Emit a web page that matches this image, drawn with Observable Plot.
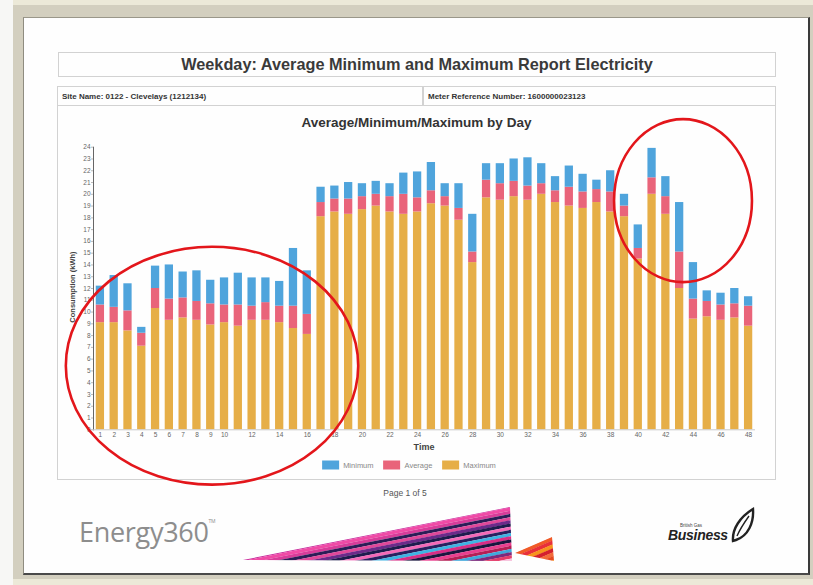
<!DOCTYPE html>
<html>
<head>
<meta charset="utf-8">
<script src="https://cdn.jsdelivr.net/npm/d3@7"></script>
<script src="https://cdn.jsdelivr.net/npm/@observablehq/plot@0.6"></script>
<style>
  html, body { margin: 0; padding: 0; }
  body { width: 813px; height: 585px; position: relative; overflow: hidden; background: #d3cfbf; font-family: "Liberation Sans", Arial, sans-serif; }
  .abs { position: absolute; }
  #leftstrip { left: 0; top: 0; width: 13px; height: 585px; background: #f7f7f5; }
  #toolbar { left: 13px; top: 0; width: 800px; height: 5px; background: #ece9d8; }
  #bottombar { left: 13px; top: 579px; width: 800px; height: 6px; background: #ece9d8; }
  #page { left: 23px; top: 17px; width: 784px; height: 555px; background: #fefefe; border-left: 1px solid #8f8c80; border-top: 1px solid #9a978a; border-right: 2px solid #3a3a3a; border-bottom: 2px solid #4a4a4a; }
  .box { border: 1.5px solid #d2d2d2; box-sizing: border-box; }
  #titlebox { left: 58px; top: 52px; width: 718px; height: 25px; display: flex; align-items: center; justify-content: center; font-weight: bold; font-size: 16.3px; color: #3a3a3a; }
  #inforow { left: 57px; top: 86px; width: 719px; height: 20px; }
  #site { left: 62px; top: 92px; font-size: 8px; font-weight: bold; color: #333; }
  #meter { left: 428px; top: 92px; font-size: 8px; font-weight: bold; color: #333; }
  #divider { left: 422px; top: 86px; width: 1.5px; height: 20px; background: #d2d2d2; }
  #chartbox { left: 57px; top: 105px; width: 719px; height: 375px; border-top: none; }
  #charttitle { left: 57px; top: 115px; width: 719px; text-align: center; font-weight: bold; font-size: 13.5px; color: #333; }
  #ylabel { left: 72px; top: 287px; transform: translate(-50%, -50%) rotate(-90deg); font-size: 7.5px; font-weight: bold; color: #444; white-space: nowrap; }
  #xlabel { left: 424px; top: 447px; transform: translate(-50%, -50%); font-size: 9px; font-weight: bold; color: #444; }
  #legend { left: 409px; top: 465px; transform: translate(-50%, -50%); display: flex; align-items: center; font-size: 7.5px; color: #888; white-space: nowrap; }
  #legend .item { display: flex; align-items: center; margin: 0 5px; }
  #legend .sw { width: 17px; height: 9px; margin-right: 4px; }
  #pageno { left: 405px; top: 493px; transform: translate(-50%, -50%); font-size: 8.5px; color: #555; }
  #energy { left: 79px; top: 513px; font-family: "Open Sans", "DejaVu Sans", sans-serif; font-size: 27px; color: #8d8d8d; letter-spacing: -0.3px; }
  #energy sup { font-size: 5px; vertical-align: 19px; }
  #chart { left: 58px; top: 130px; }
</style>
</head>
<body>
<div class="abs" id="leftstrip"></div>
<div class="abs" id="toolbar"></div>
<div class="abs" id="bottombar"></div>
<div class="abs" id="page"></div>
<div class="abs box" id="titlebox">Weekday: Average Minimum and Maximum Report Electricity</div>
<div class="abs box" id="inforow"></div>
<div class="abs" id="divider"></div>
<div class="abs" id="site">Site Name: 0122 - Clevelays (1212134)</div>
<div class="abs" id="meter">Meter Reference Number: 1600000023123</div>
<div class="abs box" id="chartbox"></div>
<div class="abs" id="charttitle">Average/Minimum/Maximum by Day</div>
<div class="abs" id="chart"></div>
<div class="abs" id="ylabel">Consumption (kWh)</div>
<div class="abs" id="xlabel">Time</div>
<div class="abs" id="legend"></div>
<div class="abs" id="pageno">Page 1 of 5</div>
<div class="abs" id="energy">Energy360<sup>TM</sup></div>
<svg class="abs" id="ribbon" style="left:240px;top:503px" width="325" height="62"></svg>
<svg class="abs" id="logo" style="left:660px;top:503px" width="100" height="45">
  <text x="8" y="37" font-family="Liberation Sans, Arial" font-weight="bold" font-style="italic" font-size="14" fill="#222" letter-spacing="-0.3">Business</text>
  <text x="20" y="24" font-family="Liberation Sans, Arial" font-size="4.5" fill="#444">British Gas</text>
  <path d="M73,38 C72,26 80,14 93,6 C94,20 88,33 76,37 Z" fill="none" stroke="#222" stroke-width="2.4"/>
  <path d="M77,33 C80,26 84,20 89,13" fill="none" stroke="#222" stroke-width="1.4"/>
</svg>
<script>
// ---- data ----
const days = [1,2,3,4,5,6,7,8,9,10,11,12,13,14,15,16,17,18,19,20,21,22,23,24,25,26,27,28,29,30,31,32,33,34,35,36,37,38,39,40,41,42,43,44,45,46,47,48];
// top of the orange ("Maximum") segment
const maximumTop = [9.1,9.1,8.4,7.1,10.3,9.3,9.5,9.3,8.9,9.1,8.8,9.3,9.3,9.1,8.6,8.1,18.1,18.5,18.3,18.7,19.0,18.5,18.3,18.5,19.2,19.0,17.8,14.2,19.7,19.5,19.8,19.5,20.0,19.3,19.0,18.8,19.3,18.5,18.1,14.5,20.0,18.3,12.0,9.4,9.6,9.3,9.5,8.8];
// top of the red ("Average") segment
const averageTop = [10.6,10.4,10.1,8.2,12.0,11.1,11.2,10.9,10.7,10.6,10.6,10.5,10.8,10.5,10.5,9.8,19.3,19.6,19.6,19.8,20.0,19.8,20.0,19.7,20.3,19.8,18.8,15.1,21.2,20.9,21.1,20.7,20.9,20.3,20.6,20.2,20.4,20.2,19.0,15.4,21.4,19.8,15.1,11.1,10.9,10.6,10.7,10.5];
// top of the blue ("Minimum") segment
const minimumTop = [12.2,13.1,12.4,8.7,13.9,14.0,13.4,13.5,12.7,12.9,13.3,12.9,12.9,12.6,15.4,13.5,20.6,20.7,21.0,20.9,21.1,20.9,21.8,21.9,22.7,20.9,20.9,18.3,22.6,22.6,23.0,23.1,22.6,21.5,22.4,21.7,21.2,22.0,20.0,17.4,23.9,21.5,19.3,14.2,11.8,11.6,12.0,11.3];
const xTickLabels = [1,2,3,4,5,6,7,8,9,10,12,14,16,18,20,22,24,26,28,30,32,34,36,38,40,42,44,46,48];
const yTickLabels = [0,1,2,3,4,5,6,7,8,9,10,11,12,13,14,15,16,17,18,19,20,21,22,23,24];
const seriesNames = ["Minimum", "Average", "Maximum"];
const seriesColors = ["#4fa4dc", "#e9647a", "#e6ae47"];
// red ellipse annotations, in chart units (bar index, kWh)
const annotations = [
  {cx: 9.13, cy: 5.4, rx: 10.6, ry: 10.1},
  {cx: 43.28, cy: 19.42, rx: 5.0, ry: 6.92}
];

const rows = days.map((d, i) => ({day: d, max: maximumTop[i], avg: averageTop[i], min: minimumTop[i]}));

function ellipses(index, scales) {
  const ns = "http://www.w3.org/2000/svg";
  const g = document.createElementNS(ns, "g");
  const x0 = scales.x(days[0]) + scales.x.bandwidth() / 2;
  const step = scales.x(days[1]) - scales.x(days[0]);
  const ky = scales.y(0) - scales.y(1);
  for (const a of annotations) {
    const e = document.createElementNS(ns, "ellipse");
    e.setAttribute("cx", x0 + (a.cx - 1) * step);
    e.setAttribute("cy", scales.y(a.cy));
    e.setAttribute("rx", a.rx * step);
    e.setAttribute("ry", a.ry * ky);
    e.setAttribute("fill", "none");
    e.setAttribute("stroke", "#e3161b");
    e.setAttribute("stroke-width", 2.6);
    g.appendChild(e);
  }
  return g;
}

const chart = Plot.plot({
  width: 717,
  height: 310,
  marginTop: 16.7,
  marginBottom: 10.7,
  marginLeft: 35,
  marginRight: 20,
  style: {background: "transparent", overflow: "visible", fontFamily: "Liberation Sans, Arial, sans-serif", fontSize: "6.5px", color: "#666"},
  x: {type: "band", domain: days, paddingInner: 0.4, paddingOuter: 0.2, ticks: xTickLabels, tickSize: 0, tickPadding: 3, label: null},
  y: {domain: [0, 24], ticks: yTickLabels, tickSize: 2, tickPadding: 1, label: null, line: true},
  marks: [
    Plot.barY(rows, {x: "day", y1: 0, y2: "max", fill: seriesColors[2]}),
    Plot.barY(rows, {x: "day", y1: "max", y2: "avg", fill: seriesColors[1]}),
    Plot.barY(rows, {x: "day", y1: "avg", y2: "min", fill: seriesColors[0]}),
    Plot.ruleY([0], {stroke: "#c8c8c8"}),
    ellipses
  ]
});
chart.querySelectorAll("[aria-label='y-axis'] path, [aria-label='y-axis tick']").forEach(p => p.setAttribute("stroke", "#bbb"));
document.getElementById("chart").appendChild(chart);

const legend = document.getElementById("legend");
seriesNames.forEach((n, i) => {
  const it = document.createElement("div");
  it.className = "item";
  it.innerHTML = `<div class="sw" style="background:${seriesColors[i]}"></div><span>${n}</span>`;
  legend.appendChild(it);
});

// decorative ribbon graphic of the footer
(function () {
  const svg = d3.select("#ribbon");
  const defs = svg.append("defs");
  defs.append("clipPath").attr("id", "c1").append("polygon").attr("points", "3,57 270,4 272,58");
  defs.append("clipPath").attr("id", "c2").append("polygon").attr("points", "275,50 312,34 314,58");
  const stripes = ["#c72a9c","#f04aa6","#d83c9a","#2b1d57","#e0489a","#6d2a8a","#1e1c4e","#f36ab8","#2a2060","#3fb3e3","#d62e86","#1a163f","#ea3f8f","#b51f55","#40a8dc","#7b2a7d","#e43c6a","#f7c4de","#a02070","#3a2a6a"];
  const g1 = svg.append("g").attr("clip-path", "url(#c1)");
  stripes.forEach((c, i) => {
    const o = i * 3.2;
    g1.append("line").attr("x1", -20).attr("y1", 61 + o).attr("x2", 300).attr("y2", -3 + o)
      .attr("stroke", c).attr("stroke-width", 3.2);
  });
  const g2 = svg.append("g").attr("clip-path", "url(#c2)");
  ["#f05a28","#e8303a","#f7941d","#d4202f","#f26a3a","#e54a20","#f9a03c","#e02a3a"].forEach((c, i) => {
    const o = i * 4;
    g2.append("line").attr("x1", 260).attr("y1", 58 + o).attr("x2", 330).attr("y2", 28 + o)
      .attr("stroke", c).attr("stroke-width", 4);
  });
})();
</script>
</body>
</html>
